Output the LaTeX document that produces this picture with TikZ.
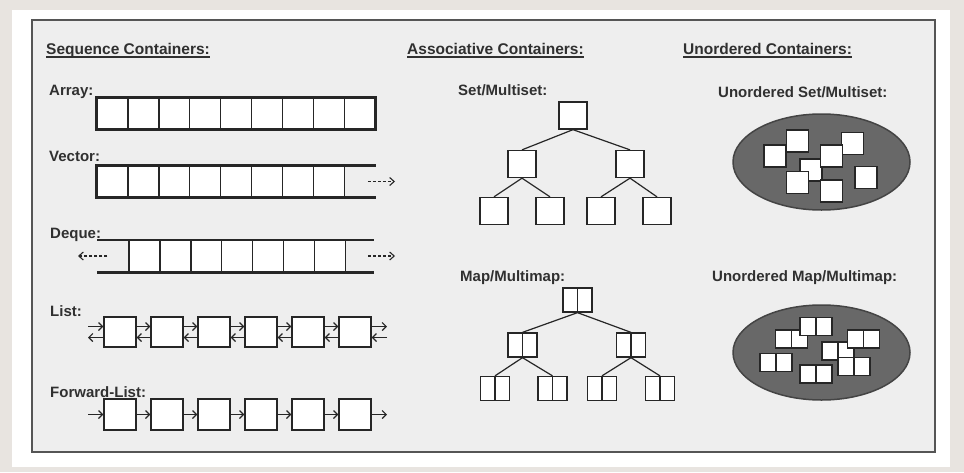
\documentclass[tikz,border=0pt]{standalone}
\usepackage{fontspec}
\setmainfont{Liberation Sans}
\usetikzlibrary{positioning,arrows.meta}

\definecolor{ink}{HTML}{262626}
\definecolor{txt}{HTML}{303030}
\definecolor{paper}{HTML}{E8E4E0}
\definecolor{panel}{HTML}{EEEEEE}
\definecolor{rimgray}{HTML}{555555}
\definecolor{blobfill}{HTML}{686868}
\definecolor{blobline}{HTML}{444444}

\tikzset{
  lbl/.style={anchor=base west,inner sep=0pt,text=txt,font=\fontsize{15}{17}\selectfont\bfseries},
  head/.style={lbl,font=\fontsize{15.5}{18}\selectfont\bfseries},
  uline/.style={draw=txt,line width=1.4pt},
  cell/.style={draw=ink,fill=white,line width=1.4pt,minimum width=30.9pt,minimum height=31pt,inner sep=0pt},
  rim/.style={draw=ink,line width=2.6pt},
  growarrow/.style={draw=ink,line width=1.1pt,dash pattern=on 3pt off 2pt,-{Straight Barb[length=4.5pt,width=8pt]}},
  elem/.style={draw=ink,fill=white,line width=1.3pt,minimum width=32pt,minimum height=30pt,inner sep=0pt},
  link/.style={draw=ink,line width=1.2pt,-{Straight Barb[length=4pt,width=8pt]}},
  leaf/.style={draw=ink,fill=white,line width=1.3pt,minimum width=28pt,minimum height=27pt,inner sep=0pt},
  pair/.style={draw=ink,fill=white,line width=1.3pt,minimum width=29pt,minimum height=24pt,inner sep=0pt},
  branch/.style={draw=ink,line width=1.2pt},
  blob/.style={fill=blobfill,draw=blobline,line width=1.5pt},
  chip/.style={draw=ink,fill=white,line width=1.2pt,minimum size=22pt,inner sep=0pt},
  chips/.style={chip,minimum width=32pt,minimum height=18pt}
}

\begin{document}
\begin{tikzpicture}[x=1pt,y=-1pt]
\useasboundingbox (0,0) rectangle (964,472);
\fill[paper] (0,0) rectangle (964,472);
\fill[white] (12,10) rectangle (950,467);
\draw[rimgray,line width=2pt,fill=panel] (32,20) rectangle (935,452);

% headings
\node[head] (seqh) at (46,54) {Sequence Containers:};
\node[head] (assh) at (407,54) {Associative Containers:};
\node[head] (unoh) at (683,54) {Unordered Containers:};
\foreach \h in {seqh,assh,unoh}
  \draw[uline] ([yshift=-3pt]\h.base west) -- ([yshift=-3pt]\h.base east);

% array
\node[lbl] (arrl) at (49,95) {Array:};
\foreach \i in {0,...,8}
  \node[cell] (a\i) at (112.45+30.9*\i,113.5) {};
\draw[rim] (a0.north west) rectangle (a8.south east);

% vector
\node[lbl] (vecl) at (49,161) {Vector:};
\foreach \i in {0,...,7}
  \node[cell] (v\i) at (112.45+30.9*\i,181.5) {};
\draw[rim] ([xshift=31pt]v7.north east) -- (v0.north west) -- (v0.south west) -- ([xshift=31pt]v7.south east);
\coordinate (vend) at (395,181.5);
\draw[growarrow] ([xshift=23pt]v7.east) -- (vend);

% deque
\node[lbl] (deql) at (50,238) {Deque:};
\foreach \i in {0,...,6}
  \node[cell] (d\i) at (144.45+30.9*\i,256) {};
\draw[rim] ([xshift=-31pt]d0.north west) -- ([xshift=28pt]d6.north east);
\draw[rim] ([xshift=-31pt]d0.south west) -- ([xshift=28pt]d6.south east);
\coordinate (dbeg) at (78,256);
\coordinate (dend) at (395,256);
\draw[growarrow] ([xshift=-21pt]d0.west) -- (dbeg);
\draw[growarrow] ([xshift=22pt]d6.east) -- (dend);

% list
\node[lbl] (lstl) at (50,316) {List:};
\foreach \i in {0,...,5}
  \node[elem] (l\i) at (120+47*\i,332) {};
\foreach \i/\j in {0/1,1/2,2/3,3/4,4/5} {
  \draw[link] ([yshift=5.5pt]l\i.east) -- ([yshift=5.5pt]l\j.west);
  \draw[link] ([yshift=-5.5pt]l\j.west) -- ([yshift=-5.5pt]l\i.east);
}
\coordinate (lbeg) at (88,332);
\coordinate (lend) at (387,332);
\draw[link] ([yshift=5.5pt]lbeg) -- ([yshift=5.5pt]l0.west);
\draw[link] ([yshift=-5.5pt]l0.west) -- ([yshift=-5.5pt]lbeg);
\draw[link] ([yshift=5.5pt]l5.east) -- ([yshift=5.5pt]lend);
\draw[link] ([yshift=-5.5pt]lend) -- ([yshift=-5.5pt]l5.east);

% forward list
\node[lbl] (fwdl) at (50,397) {Forward-List:};
\foreach \i in {0,...,5}
  \node[elem,minimum height=31pt] (f\i) at (120+47*\i,414.5) {};
\foreach \i/\j in {0/1,1/2,2/3,3/4,4/5}
  \draw[link] (f\i.east) -- (f\j.west);
\coordinate (fbeg) at (88,414.5);
\coordinate (fend) at (387,414.5);
\draw[link] (fbeg) -- (f0.west);
\draw[link] (f5.east) -- (fend);

% set tree
\node[lbl] (setl) at (458,95) {Set/Multiset:};
\node[leaf] (s) at (573,115.5) {};
\node[leaf] (sl) at (522,164) {};
\node[leaf] (sr) at (630,164) {};
\node[leaf] (sll) at (494,211) {};
\node[leaf] (slr) at (550,211) {};
\node[leaf] (srl) at (601,211) {};
\node[leaf] (srr) at (657,211) {};
\foreach \a/\b in {s/sl,s/sr,sl/sll,sl/slr,sr/srl,sr/srr}
  \draw[branch] (\a.south) -- (\b.north);

% map tree
\node[lbl] (mapl) at (460,281) {Map/Multimap:};
\node[pair] (m) at (577.5,300) {};
\node[pair] (ml) at (522.5,345) {};
\node[pair] (mr) at (631,345) {};
\node[pair] (mll) at (495,388.5) {};
\node[pair] (mlr) at (552.5,388.5) {};
\node[pair] (mrl) at (602,388.5) {};
\node[pair] (mrr) at (660,388.5) {};
\foreach \a/\b in {m/ml,m/mr,ml/mll,ml/mlr,mr/mrl,mr/mrr}
  \draw[branch] (\a.south) -- (\b.north);
\foreach \n in {m,ml,mr,mll,mlr,mrl,mrr}
  \draw[branch] (\n.north) -- (\n.south);

% unordered set
\node[lbl] (usetl) at (718,97) {Unordered Set/Multiset:};
\draw[blob] (821.5,162) ellipse [x radius=88.5,y radius=48];
\foreach \x/\y [count=\k] in {811/170,797.5/141,852.5/143.5,775/156,831.5/156,866/177.5,797.5/182.5,831.5/191}
  \node[chip] (u\k) at (\x,\y) {};

% unordered map
\node[lbl] (umapl) at (712,281) {Unordered Map/Multimap:};
\draw[blob] (821.5,352.5) ellipse [x radius=88.5,y radius=47.5];
\foreach \x/\y [count=\k] in {791.5/339,838/351,816/326.5,863.5/339,776/362.5,854/366.5,816/374} {
  \node[chips] (w\k) at (\x,\y) {};
  \draw[ink,line width=1.2pt] (w\k.north) -- (w\k.south);
}
\end{tikzpicture}
\end{document}
